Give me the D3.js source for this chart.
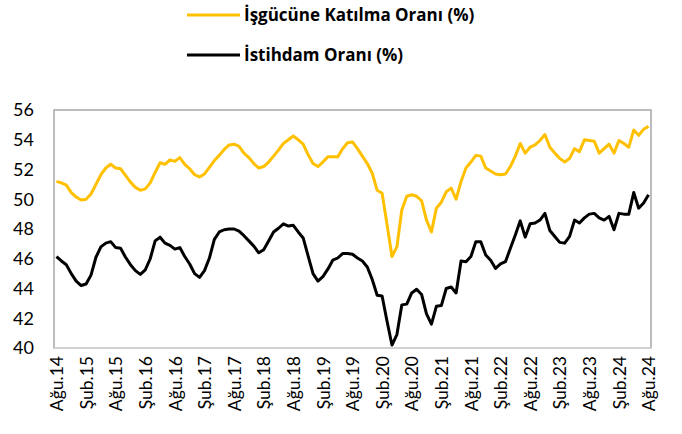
<!DOCTYPE html>
<html>
<head>
<meta charset="utf-8">
<script src="https://cdn.jsdelivr.net/npm/d3@7"></script>
<style>
  body { margin: 0; background: #fff; }
  svg text { font-family: Lato, "Open Sans", sans-serif; fill: #000; }
</style>
</head>
<body>
<div id="chart"></div>
<script>
// veri: Ağu.14 – Ağu.24, aylık (121 ay)
const participation = [
  51.2, 51.1, 50.95, 50.45, 50.15, 49.95, 50.0, 50.35, 51.0, 51.65,
  52.1, 52.35, 52.1, 52.05, 51.6, 51.15, 50.8, 50.6, 50.7, 51.1,
  51.8, 52.45, 52.35, 52.65, 52.55, 52.8, 52.35, 52.05, 51.65, 51.5,
  51.7, 52.15, 52.6, 52.95, 53.35, 53.65, 53.7, 53.55, 53.1, 52.8,
  52.4, 52.1, 52.2, 52.5, 52.9, 53.3, 53.75, 54.0, 54.25, 54.0,
  53.7, 53.0, 52.4, 52.2, 52.5, 52.85, 52.85, 52.85, 53.4, 53.8,
  53.85, 53.4, 52.9, 52.4, 51.75, 50.6, 50.4, 48.3, 46.15, 46.8,
  49.3, 50.2, 50.3, 50.2, 49.9, 48.6, 47.8, 49.4, 49.8, 50.5,
  50.75, 50.0, 51.2, 52.1, 52.5, 52.95, 52.9, 52.1, 51.9, 51.7,
  51.65, 51.7, 52.2, 52.9, 53.75, 53.1, 53.5, 53.65, 53.95, 54.35,
  53.5, 53.1, 52.75, 52.5, 52.75, 53.4, 53.2, 54.0, 53.95, 53.9,
  53.1, 53.4, 53.7, 53.1, 53.95, 53.75, 53.5, 54.65, 54.3, 54.7,
  54.9
];
const employment = [
  46.15, 45.85, 45.6, 45.0, 44.5, 44.2, 44.3, 44.9, 46.1, 46.8,
  47.05, 47.15, 46.75, 46.7, 46.1, 45.6, 45.2, 44.95, 45.25, 46.0,
  47.2, 47.45, 47.05, 46.9, 46.65, 46.75, 46.15, 45.65, 45.0, 44.75,
  45.2, 46.05, 47.3, 47.8, 47.95, 48.0, 48.0, 47.85, 47.55, 47.2,
  46.85, 46.4, 46.6, 47.2, 47.8, 48.05, 48.35, 48.2, 48.25, 47.8,
  47.4, 46.2, 45.0, 44.5, 44.8, 45.3, 45.9, 46.05, 46.35, 46.35,
  46.3, 46.05, 45.85, 45.45, 44.6, 43.55, 43.5, 41.8, 40.2, 40.9,
  42.9, 42.95, 43.7, 43.95, 43.6, 42.3, 41.6, 42.8, 42.85, 44.0,
  44.1, 43.7, 45.85, 45.8, 46.15, 47.15, 47.15, 46.25, 45.9, 45.35,
  45.65, 45.8, 46.7, 47.6, 48.55, 47.45, 48.35, 48.4, 48.6, 49.05,
  47.9, 47.5, 47.1, 47.05, 47.5, 48.6, 48.4, 48.75, 49.0, 49.05,
  48.75, 48.6, 48.85, 47.95, 49.05, 49.0, 49.0, 50.45, 49.4, 49.75,
  50.3
];
// her 6 ayda bir etiket
const tickLabels = [
  'Ağu.14','Şub.15','Ağu.15','Şub.16','Ağu.16','Şub.17','Ağu.17',
  'Şub.18','Ağu.18','Şub.19','Ağu.19','Şub.20','Ağu.20','Şub.21',
  'Ağu.21','Şub.22','Ağu.22','Şub.23','Ağu.23','Şub.24','Ağu.24'
];
const yTicks = [40, 42, 44, 46, 48, 50, 52, 54, 56];
const seriesNames = ['İşgücüne Katılma Oranı (%)', 'İstihdam Oranı (%)'];
const seriesColors = ['#FFC000', '#000000'];

const W = 682, H = 434;
const plot = {left: 54, right: 651, top: 110, bottom: 348};

const svg = d3.select('#chart').append('svg')
  .attr('width', W).attr('height', H);

const x = d3.scaleLinear()
  .domain([-0.5, participation.length - 0.5])
  .range([plot.left, plot.right]);
const y = d3.scaleLinear().domain([40, 56]).range([plot.bottom, plot.top]);

// çizim alanı çerçevesi
svg.append('rect')
  .attr('x', plot.left).attr('y', plot.top)
  .attr('width', plot.right - plot.left).attr('height', plot.bottom - plot.top)
  .attr('fill', 'none').attr('stroke', '#a6a6a6').attr('stroke-width', 1.5);
svg.append('line')
  .attr('x1', plot.left).attr('x2', plot.right)
  .attr('y1', plot.bottom).attr('y2', plot.bottom)
  .attr('stroke', '#d9d9d9').attr('stroke-width', 1.5);

// y ekseni
const yAxis = svg.append('g')
  .attr('transform', `translate(${plot.left},0)`)
  .call(d3.axisLeft(y).tickValues(yTicks).tickSize(0).tickPadding(20));
yAxis.select('.domain').remove();
yAxis.selectAll('text').style('font-size', '18px');

// x ekseni
const xAxis = svg.append('g')
  .attr('transform', `translate(0,${plot.bottom})`)
  .call(d3.axisBottom(x)
    .tickValues(tickLabels.map((d, i) => i * 6))
    .tickFormat((d, i) => tickLabels[i])
    .tickSize(0));
xAxis.select('.domain').remove();
xAxis.selectAll('text')
  .style('font-size', '17.5px')
  .attr('text-anchor', 'end')
  .attr('transform', 'rotate(-90)')
  .attr('x', -8).attr('y', 0).attr('dy', '0.35em');

// çizgiler
const line = d3.line().x((d, i) => x(i)).y(d => y(d));
[participation, employment].forEach((s, k) => {
  svg.append('path')
    .datum(s)
    .attr('d', line)
    .attr('fill', 'none')
    .attr('stroke', seriesColors[k])
    .attr('stroke-width', 3)
    .attr('stroke-linejoin', 'round');
});

// lejant
const legendY = [15, 55];
seriesNames.forEach((name, k) => {
  const g = svg.append('g').attr('transform', `translate(187,${legendY[k]})`);
  g.append('line')
    .attr('x1', 0).attr('x2', 53)
    .attr('stroke', seriesColors[k]).attr('stroke-width', 3);
  g.append('text')
    .attr('x', 57).attr('dy', '0.36em')
    .style('font-family', '"Open Sans", sans-serif')
    .style('font-size', '17px').style('font-weight', 'bold')
    .text(name);
});
</script>
</body>
</html>
